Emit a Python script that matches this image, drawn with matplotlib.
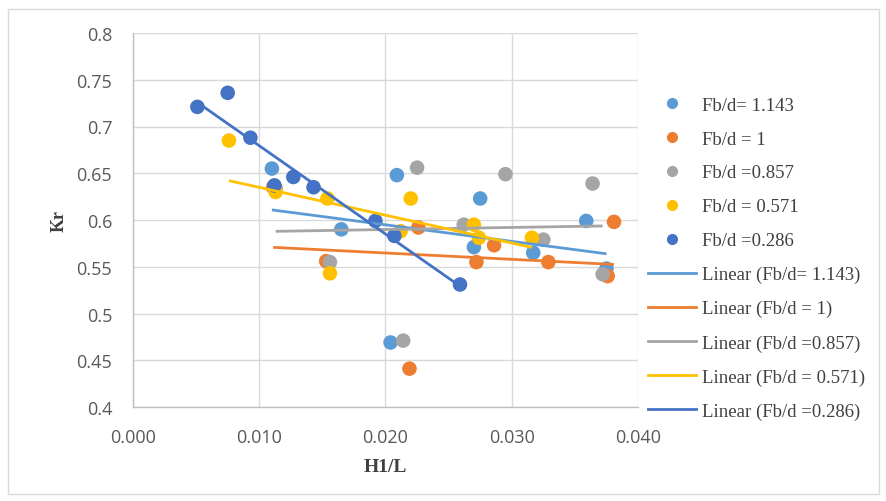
import numpy as np
import matplotlib
matplotlib.use("Agg")
import matplotlib.pyplot as plt
from matplotlib.lines import Line2D
from matplotlib.patches import Rectangle

# Relative wave height H1/L and transmission coefficient Kr for each Fb/d
h_1143 = [0.0110, 0.0165, 0.0204, 0.0209, 0.0270, 0.0275, 0.0317, 0.0359, 0.0375]
kr_1143 = [0.655, 0.590, 0.469, 0.648, 0.571, 0.623, 0.565, 0.599, 0.548]

h_1 = [0.0111, 0.0153, 0.0219, 0.0226, 0.0272, 0.0286, 0.0329, 0.0376, 0.0381]
kr_1 = [0.635, 0.556, 0.441, 0.592, 0.555, 0.573, 0.555, 0.540, 0.598]

h_0857 = [0.0113, 0.0156, 0.0214, 0.0225, 0.0262, 0.0295, 0.0325, 0.0364, 0.0372]
kr_0857 = [0.634, 0.555, 0.471, 0.656, 0.595, 0.649, 0.579, 0.639, 0.542]

h_0571 = [0.0076, 0.0113, 0.0154, 0.0156, 0.0212, 0.0220, 0.0270, 0.0274, 0.0316]
kr_0571 = [0.685, 0.630, 0.623, 0.543, 0.588, 0.623, 0.595, 0.581, 0.581]

h_0286 = [0.0051, 0.0075, 0.0093, 0.0112, 0.0127, 0.0143, 0.0192, 0.0207, 0.0259]
kr_0286 = [0.721, 0.736, 0.688, 0.637, 0.646, 0.635, 0.599, 0.583, 0.531]

labels = ["Fb/d= 1.143", "Fb/d = 1", "Fb/d =0.857", "Fb/d = 0.571", "Fb/d =0.286"]
colors = ["#5B9BD5", "#ED7D31", "#A5A5A5", "#FFC000", "#4472C4"]
xs = [h_1143, h_1, h_0857, h_0571, h_0286]
ys = [kr_1143, kr_1, kr_0857, kr_0571, kr_0286]

x_ticks = [0.0, 0.01, 0.02, 0.03, 0.04]
y_ticks = [0.4, 0.45, 0.5, 0.55, 0.6, 0.65, 0.7, 0.75, 0.8]

W, H = 887, 502
fig = plt.figure(figsize=(W / 100, H / 100), dpi=100)
fig.patch.set_facecolor("white")
fig.add_artist(Rectangle((8 / W, 7 / H), (W - 16) / W, (H - 17) / H,
                         transform=fig.transFigure, fill=False,
                         edgecolor="#D9D9D9", linewidth=1.0))

ax = fig.add_axes([133 / W, 1 - 408 / H, (638 - 133) / W, (408 - 34) / H])

for x, y, c in zip(xs, ys, colors):
    ax.scatter(x, y, s=110, color=c, edgecolors="none", zorder=3)

# Least-squares trend lines spanning each series' range
for x, y, c in zip(xs, ys, colors):
    slope, intercept = np.polyfit(x, y, 1)
    xx = np.array([min(x), max(x)])
    ax.plot(xx, slope * xx + intercept, color=c, linewidth=2.0, zorder=4,
            solid_capstyle="butt")

ax.set_xlim(0, 0.04)
ax.set_ylim(0.4, 0.8)
ax.set_xticks(x_ticks)
ax.set_yticks(y_ticks)
ax.set_xticklabels([f"{v:.3f}" for v in x_ticks])
ax.set_yticklabels([f"{v:g}" for v in y_ticks])
ax.grid(True, color="#D9D9D9", linewidth=1.0, zorder=0)
ax.set_axisbelow(True)
for s in ["top", "right"]:
    ax.spines[s].set_visible(False)
for s in ["left", "bottom"]:
    ax.spines[s].set_color("#BFBFBF")
    ax.spines[s].set_linewidth(1.0)
ax.tick_params(axis="y", length=0, pad=15, labelsize=13, labelcolor="#595959")
ax.tick_params(axis="x", length=0, pad=15, labelsize=13, labelcolor="#595959")
for lab in ax.get_xticklabels() + ax.get_yticklabels():
    lab.set_family("Open Sans")

ax.set_xlabel("H1/L", family="Liberation Serif", fontweight="bold",
              fontsize=14, color="#404040", labelpad=9)
ax.set_ylabel("Kr", family="Liberation Serif", fontweight="bold",
              fontsize=13, color="#404040", labelpad=6)

handles = []
for lab, c in zip(labels, colors):
    handles.append(Line2D([], [], linestyle="none", marker="o", markersize=7,
                          color=c, label=lab))
for lab, c in zip(labels, colors):
    handles.append(Line2D([], [], color=c, linewidth=2.0,
                          label=f"Linear ({lab})"))

leg = fig.legend(handles=handles, loc="upper left",
                 bbox_to_anchor=(641 / W, 1 - 90 / H),
                 frameon=False, handlelength=2.56, handletextpad=0.27,
                 labelspacing=0.895, borderaxespad=0,
                 prop={"family": "Liberation Serif", "size": 13.5})
for t in leg.get_texts():
    t.set_color("#404040")

fig.savefig("out.png", dpi=100, facecolor="white")
